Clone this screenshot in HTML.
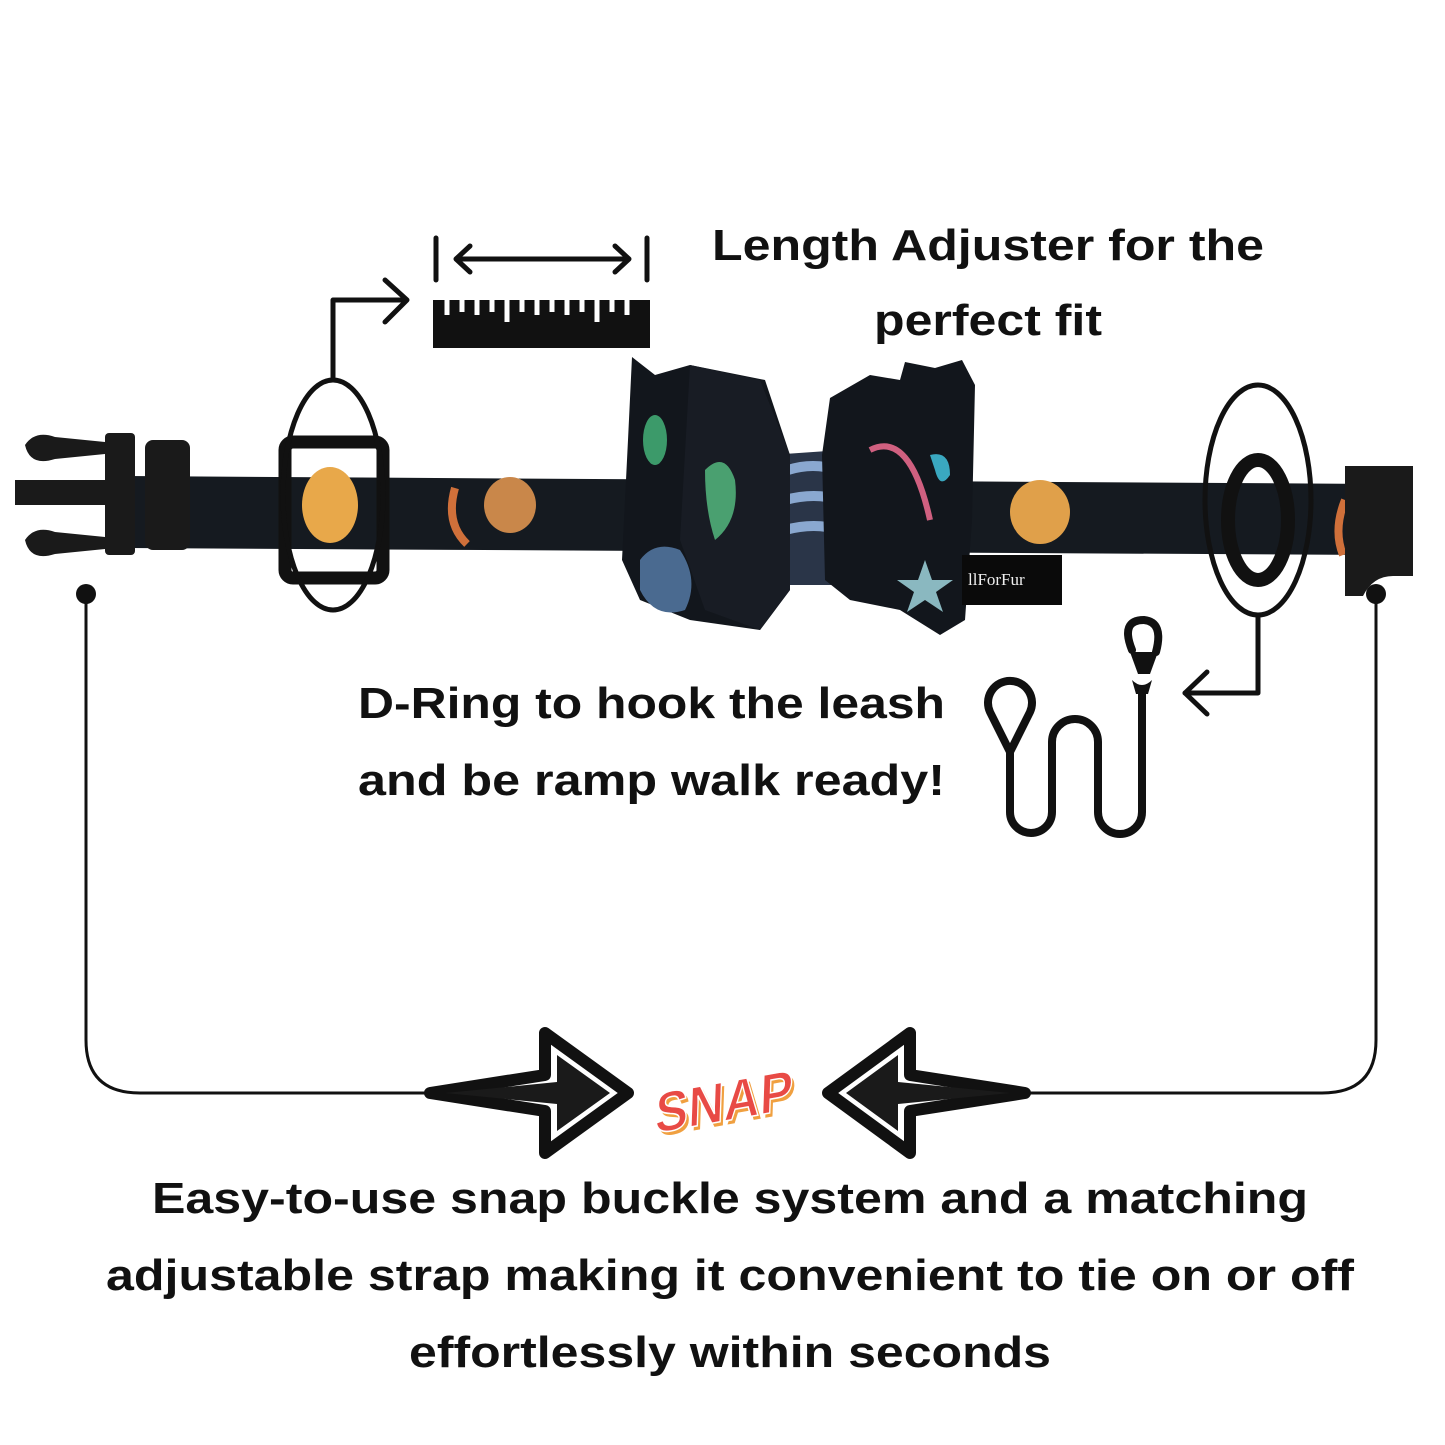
<!DOCTYPE html>
<html><head><meta charset="utf-8"><style>
html,body{margin:0;padding:0;background:#fff;}
svg{display:block}
text{font-family:"Liberation Sans",sans-serif;font-weight:bold;fill:#111}
</style></head><body>
<svg width="1445" height="1445" viewBox="0 0 1445 1445" xmlns="http://www.w3.org/2000/svg">
<rect width="1445" height="1445" fill="#fff"/>
<text x="988" y="260" font-size="44" text-anchor="middle" textLength="552" lengthAdjust="spacingAndGlyphs">Length Adjuster for the</text>
<text x="988" y="335" font-size="44" text-anchor="middle" textLength="228" lengthAdjust="spacingAndGlyphs">perfect fit</text>
<g stroke="#111" stroke-width="5" fill="none" stroke-linecap="round" stroke-linejoin="round">
<line x1="436" y1="238" x2="436" y2="280"/><line x1="647" y1="238" x2="647" y2="280"/>
<line x1="457" y1="259" x2="628" y2="259"/>
<polyline points="470,246 456,259 470,272"/><polyline points="615,246 629,259 615,272"/>
</g>
<path d="M433,300 h217 v48 h-217 z" fill="#111"/>
<g stroke="#fff" stroke-width="5">
<line x1="447" y1="300" x2="447" y2="315"/><line x1="462" y1="300" x2="462" y2="312"/><line x1="477" y1="300" x2="477" y2="315"/><line x1="492" y1="300" x2="492" y2="312"/><line x1="507" y1="300" x2="507" y2="322"/><line x1="522" y1="300" x2="522" y2="312"/><line x1="537" y1="300" x2="537" y2="315"/><line x1="552" y1="300" x2="552" y2="312"/><line x1="567" y1="300" x2="567" y2="315"/><line x1="582" y1="300" x2="582" y2="312"/><line x1="597" y1="300" x2="597" y2="322"/><line x1="612" y1="300" x2="612" y2="312"/><line x1="627" y1="300" x2="627" y2="315"/>
</g>
<g stroke="#111" stroke-width="5" fill="none" stroke-linejoin="round" stroke-linecap="round">
<polyline points="333,380 333,300 405,300"/>
<polyline points="385,280 407,300 385,322"/>
</g>
<path d="M120,476 L1380,484 L1380,555 L120,548 Z" fill="#151a20"/>
<ellipse cx="330" cy="505" rx="28" ry="38" fill="#e8a84a"/>
<ellipse cx="510" cy="505" rx="26" ry="28" fill="#c9874a"/>
<path d="M455,488 q-10,35 12,56" stroke="#d0703a" stroke-width="8" fill="none"/>
<ellipse cx="1040" cy="512" rx="30" ry="32" fill="#e0a04a"/>
<path d="M1345,500 q-12,30 -2,55" stroke="#d0703a" stroke-width="8" fill="none"/>
<g fill="#1a1a1a">
<path d="M15,480 h95 v25 h-95 z"/>
<path d="M25,445 q10,-15 30,-8 l50,5 v12 l-50,5 q-25,8 -30,-14z"/>
<path d="M25,540 q10,-15 30,-8 l50,5 v12 l-50,5 q-25,8 -30,-14z"/>
<rect x="105" y="433" width="30" height="122" rx="4"/>
<rect x="145" y="440" width="45" height="110" rx="8"/>
</g>
<rect x="285" y="442" width="98" height="136" rx="8" fill="none" stroke="#111" stroke-width="13"/>
<path d="M1345,466 h68 v110 h-20 q-20,0 -30,20 h-18 z" fill="#1a1a1a"/>
<ellipse cx="1258" cy="520" rx="30" ry="60" fill="none" stroke="#111" stroke-width="14"/>
<ellipse cx="333" cy="495" rx="50" ry="115" fill="none" stroke="#111" stroke-width="5"/>
<ellipse cx="1258" cy="500" rx="53" ry="115" fill="none" stroke="#111" stroke-width="5"/>
<path d="M770,455 L842,450 L845,585 L772,585 Z" fill="#2a3548"/>
<path d="M788,470 q25,-8 50,0 M785,500 q30,-8 55,0 M785,530 q30,-8 55,0" stroke="#8aa8d0" stroke-width="10" fill="none"/>
<path d="M632,357 L655,375 L690,365 L765,380 L790,455 L790,590 L760,630 L690,620 L640,600 L622,560 L628,440 Z" fill="#12161c"/>
<path d="M690,365 L760,380 L790,455 L790,590 L760,630 L705,610 L680,540 Z" fill="#181c24"/>
<ellipse cx="655" cy="440" rx="12" ry="25" fill="#3c9a6a"/>
<path d="M705,470 q20,-20 30,10 q5,40 -20,60 q-10,-30 -10,-70z" fill="#4aa070"/>
<path d="M640,560 q15,-20 40,-10 q20,30 5,60 q-30,10 -45,-20z" fill="#4a6a90"/>
<path d="M822,455 L830,398 L870,375 L900,380 L905,362 L935,368 L962,360 L975,385 L972,520 L965,620 L940,635 L900,610 L850,600 L825,580 Z" fill="#12161c"/>
<path d="M935,470 l-5,-15 q20,-5 20,20 q-10,15 -15,-5z" fill="#3aa8c0"/>
<path d="M870,450 q40,-20 60,70" stroke="#d06080" stroke-width="6" fill="none"/>
<polygon points="925,560 932,580 953,580 936,592 943,612 925,600 907,612 914,592 897,580 918,580" fill="#8ab8c0"/>
<rect x="962" y="555" width="100" height="50" fill="#0a0a0a"/>
<text x="968" y="585" font-size="17" style="font-family:'Liberation Serif',serif;font-weight:normal;fill:#eee">llForFur</text>
<g stroke="#111" stroke-width="5" fill="none" stroke-linejoin="round" stroke-linecap="round">
<polyline points="1258,615 1258,693 1185,693"/>
<polyline points="1207,672 1185,693 1207,714"/>
</g>
<g stroke="#111" stroke-width="8" fill="none" stroke-linecap="round">
<path d="M1010,752 L990,712 A22,22 0 1 1 1030,712 Z" stroke-linejoin="round"/>
<path d="M1010,752 V812 A21,21 0 0 0 1052,812 V742 A23,23 0 0 1 1098,742 V812 A22,22 0 0 0 1142,812 V690"/>
<path d="M1132,650 q-12,-30 12,-30 q20,2 12,32"/>
</g>
<path d="M1130,652 l28,0 l-8,22 l-12,0 z" fill="#111"/>
<path d="M1132,680 q10,10 20,0 l-4,14 h-12z" fill="#111"/>
<text x="358" y="718" font-size="44" textLength="587" lengthAdjust="spacingAndGlyphs">D-Ring to hook the leash</text>
<text x="358" y="795" font-size="44" textLength="587" lengthAdjust="spacingAndGlyphs">and be ramp walk ready!</text>
<circle cx="86" cy="594" r="10" fill="#111"/>
<circle cx="1376" cy="594" r="10" fill="#111"/>
<g stroke="#111" stroke-width="3" fill="none">
<path d="M86,594 V1040 Q86,1093 140,1093 H432"/>
<path d="M1376,594 V1040 Q1376,1093 1322,1093 H1025"/>
</g>
<g stroke-linejoin="round">
<path d="M430,1093 L545,1075 L545,1033 L628,1093 L545,1153 L545,1111 Z" fill="#fff" stroke="#111" stroke-width="12"/>
<path d="M445,1093 L557,1082 L557,1055 L610,1093 L557,1131 L557,1104 Z" fill="#1a1a1a"/>
<path d="M1025,1093 L910,1075 L910,1033 L828,1093 L910,1153 L910,1111 Z" fill="#fff" stroke="#111" stroke-width="12"/>
<path d="M1010,1093 L898,1082 L898,1055 L846,1093 L898,1131 L898,1104 Z" fill="#1a1a1a"/>
</g>
<g transform="rotate(-10 728 1095) skewX(-12) translate(230 0)">
<text x="730" y="1124" font-size="56" text-anchor="middle" style="fill:#f0a040" textLength="140" lengthAdjust="spacingAndGlyphs">SNAP</text>
<text x="727" y="1120" font-size="56" text-anchor="middle" style="fill:#e84a45;stroke:#fff;stroke-width:1.5" textLength="140" lengthAdjust="spacingAndGlyphs">SNAP</text>
</g>
<text x="730" y="1213" font-size="44" text-anchor="middle" textLength="1156" lengthAdjust="spacingAndGlyphs">Easy-to-use snap buckle system and a matching</text>
<text x="730" y="1290" font-size="44" text-anchor="middle" textLength="1248" lengthAdjust="spacingAndGlyphs">adjustable strap making it convenient to tie on or off</text>
<text x="730" y="1367" font-size="44" text-anchor="middle" textLength="642" lengthAdjust="spacingAndGlyphs">effortlessly within seconds</text>
</svg>
</body></html>
